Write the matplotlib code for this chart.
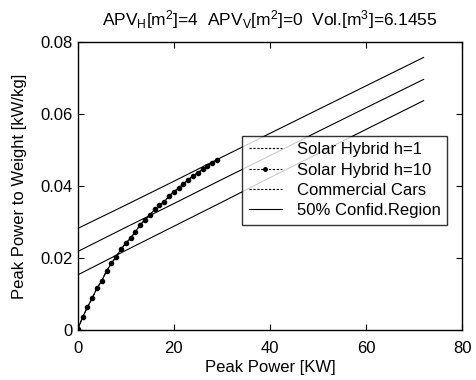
import matplotlib.pyplot as plt
from matplotlib.lines import Line2D

plt.rcParams['font.family'] = ['Liberation Sans', 'DejaVu Sans']
plt.rcParams['mathtext.fontset'] = 'custom'
plt.rcParams['mathtext.rm'] = 'Liberation Sans'
plt.rcParams['mathtext.it'] = 'Liberation Sans'

# solar hybrid curve (h=10, with markers)
hyb_x = [0, 1, 2, 3, 4, 5, 6, 7, 8, 9, 10, 11, 12, 13, 14, 15, 16, 17, 18, 19,
         20, 21, 22, 23, 24, 25, 26, 27, 28, 29]
hyb_y = [0.0002, 0.0035, 0.0063, 0.0088, 0.0116, 0.0137, 0.0164, 0.0185, 0.0204, 0.0224,
         0.0241, 0.0255, 0.0273, 0.0292, 0.0306, 0.0319, 0.0335, 0.0347, 0.0356, 0.0372,
         0.0384, 0.0394, 0.0406, 0.0417, 0.0428, 0.0437, 0.0446, 0.0456, 0.0463, 0.0472]

# commercial cars fit and 50% confidence band
cars_x = [0, 10, 20, 30, 40, 50, 60, 72]
cars_y = [0.0218, 0.0285, 0.0351, 0.0418, 0.0484, 0.0551, 0.0617, 0.0696]
upper_y = [0.0282, 0.0347, 0.0413, 0.0480, 0.0546, 0.0612, 0.0678, 0.0757]
lower_y = [0.0153, 0.0221, 0.0288, 0.0355, 0.0423, 0.0490, 0.0557, 0.0637]

fig = plt.figure(figsize=(4.77, 3.80), dpi=100)
ax = fig.add_axes([0.163, 0.1316, 0.8056, 0.758])

ax.plot(hyb_x, hyb_y, color='black', linestyle='--', linewidth=0.8)
ax.plot(hyb_x, hyb_y, color='black', linestyle='-', linewidth=0.8,
        marker='o', markersize=3)
ax.plot(cars_x, cars_y, color='black', linewidth=0.8)
ax.plot(cars_x, upper_y, color='black', linewidth=0.8)
ax.plot(cars_x, lower_y, color='black', linewidth=0.8)

ax.set_xlim(0, 80)
ax.set_ylim(0, 0.08)
ax.set_xticks([0, 20, 40, 60, 80])
ax.set_yticks([0, 0.02, 0.04, 0.06, 0.08])
ax.set_yticklabels(['0', '0.02', '0.04', '0.06', '0.08'])
ax.tick_params(direction='in', top=True, right=True, length=4, labelsize=12, width=0.8)
ax.tick_params(axis='x', pad=8)
for s in ax.spines.values():
    s.set_linewidth(1.0)

ax.set_xlabel('Peak Power [KW]', fontsize=12, labelpad=3)
ax.set_ylabel('Peak Power to Weight [kW/kg]', fontsize=12, labelpad=10)
ax.set_title(r'APV$_{\mathrm{H}}$[m$^2$]=4  APV$_{\mathrm{V}}$[m$^2$]=0  Vol.[m$^3$]=6.1455',
             fontsize=12.5, pad=12)

handles = [
    Line2D([], [], color='black', linestyle=(0, (2, 1.5)), linewidth=0.8),
    Line2D([], [], color='black', linestyle=(0, (2, 1.5)), linewidth=0.8, marker='.', markersize=5),
    Line2D([], [], color='black', linestyle=(0, (2, 1.5)), linewidth=0.8),
    Line2D([], [], color='black', linestyle='-', linewidth=0.8),
]
labels = ['Solar Hybrid h=1', 'Solar Hybrid h=10', 'Commercial Cars', '50% Confid.Region']
leg = ax.legend(handles, labels, loc='upper left', bbox_to_anchor=(0.427, 0.675),
                borderaxespad=0, fontsize=12, frameon=True, fancybox=False,
                edgecolor='black', borderpad=0.4, labelspacing=0.32, handlelength=2.0,
                handletextpad=0.9, numpoints=1)
leg.get_frame().set_linewidth(1.0)

fig.savefig('out.png', dpi=100)
